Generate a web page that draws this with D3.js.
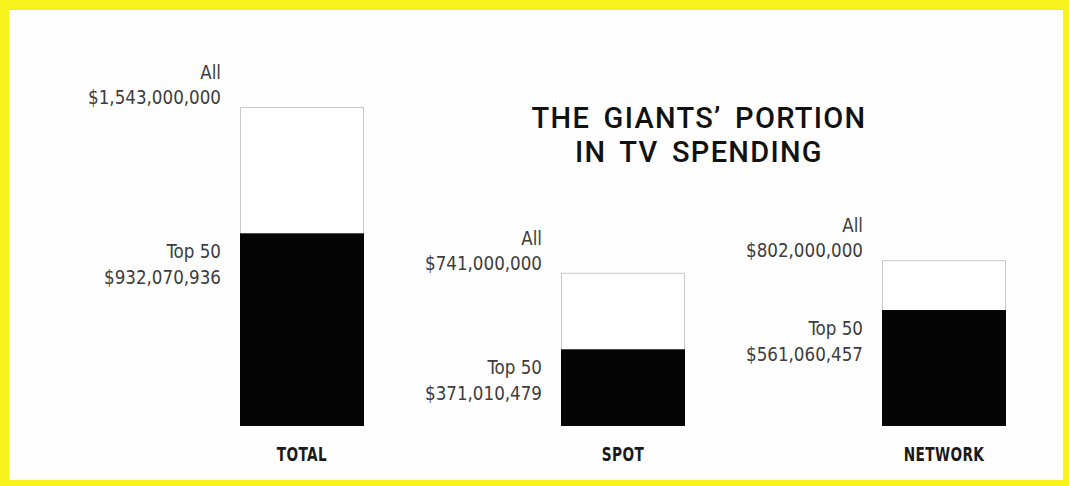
<!DOCTYPE html>
<html>
<head>
<meta charset="utf-8">
<script src="https://cdn.jsdelivr.net/npm/d3@7/dist/d3.min.js"></script>
<style>
  html, body { margin: 0; padding: 0; background: #f8f21c; }
  svg { display: block; }
</style>
</head>
<body>
<svg id="chart" width="1069" height="486"></svg>
<script>
// TV spending: all advertisers vs. the top 50, by medium
const categories = ["TOTAL", "SPOT", "NETWORK"];
const allSpending = [1543000000, 741000000, 802000000];
const top50Spending = [932070936, 371010479, 561060457];
const titleLines = ["THE GIANTS\u2019 PORTION", "IN TV SPENDING"];

const W = 1069, H = 486;
const svg = d3.select("#chart");

// yellow frame with white page inside
svg.append("rect").attr("x", 0).attr("y", 0).attr("width", W).attr("height", H).attr("fill", "#f8f21c");
svg.append("rect").attr("x", 9).attr("y", 10).attr("width", 1054).attr("height", 470).attr("fill", "#fefefe");

const x = d3.scalePoint().domain(categories).range([302, 944]);
const y = d3.scaleLinear().domain([0, d3.max(allSpending)]).range([426, 107]);
const barW = 124;

const fmt = d3.format("$,");
const labelFont = "'DejaVu Sans Condensed', 'Liberation Sans Narrow', sans-serif";

const data = categories.map((c, i) => ({ cat: c, all: allSpending[i], top: top50Spending[i] }));

const g = svg.append("g");

// outline bar for all advertisers
g.selectAll("rect.all").data(data).join("rect")
  .attr("class", "all")
  .attr("x", d => x(d.cat) - barW / 2 + 0.5)
  .attr("y", d => y(d.all) + 0.5)
  .attr("width", barW - 1)
  .attr("height", d => y(0) - y(d.all) - 1)
  .attr("fill", "#ffffff")
  .attr("stroke", "#c8c8c8")
  .attr("stroke-width", 1);

// solid bar for the top 50
g.selectAll("rect.top").data(data).join("rect")
  .attr("class", "top")
  .attr("x", d => x(d.cat) - barW / 2)
  .attr("y", d => y(d.top))
  .attr("width", barW)
  .attr("height", d => y(0) - y(d.top))
  .attr("fill", "#050505");

// narrow, slightly tall lettering for the value labels
function valueLabels(cls, key, first, offsets) {
  const lab = g.selectAll("g." + cls).data(data).join("g")
    .attr("class", cls)
    .attr("transform", d => `translate(${x(d.cat) - barW / 2 - 19},${y(d[key])}) scale(0.93,1)`)
    .style("font-family", labelFont)
    .style("font-size", "20px")
    .attr("fill", "#3d3d3d")
    .attr("text-anchor", "end");
  lab.append("text").attr("y", offsets[0]).text(first);
  lab.append("text").attr("y", offsets[1]).text(d => fmt(d[key]));
}
valueLabels("allLab", "all", "All", [-28, -3]);
valueLabels("topLab", "top", "Top 50", [25, 51]);

// category names under the bars
g.selectAll("text.cat").data(data).join("text")
  .attr("class", "cat")
  .attr("transform", d => `translate(${x(d.cat)},461) scale(0.8,1)`)
  .attr("text-anchor", "middle")
  .style("font-family", labelFont)
  .style("font-weight", "bold")
  .style("font-size", "19px")
  .style("letter-spacing", "0.5px")
  .attr("fill", "#1a1a1a")
  .text(d => d.cat);

// title
svg.selectAll("text.title").data(titleLines).join("text")
  .attr("class", "title")
  .attr("x", 699)
  .attr("y", (d, i) => 128 + i * 34)
  .attr("text-anchor", "middle")
  .style("font-family", "Roboto, 'Liberation Sans', sans-serif")
  .style("font-weight", "500")
  .style("font-size", "29px")
  .style("letter-spacing", "1.3px")
  .style("word-spacing", "5px")
  .attr("fill", "#111")
  .text(d => d);
</script>
</body>
</html>
